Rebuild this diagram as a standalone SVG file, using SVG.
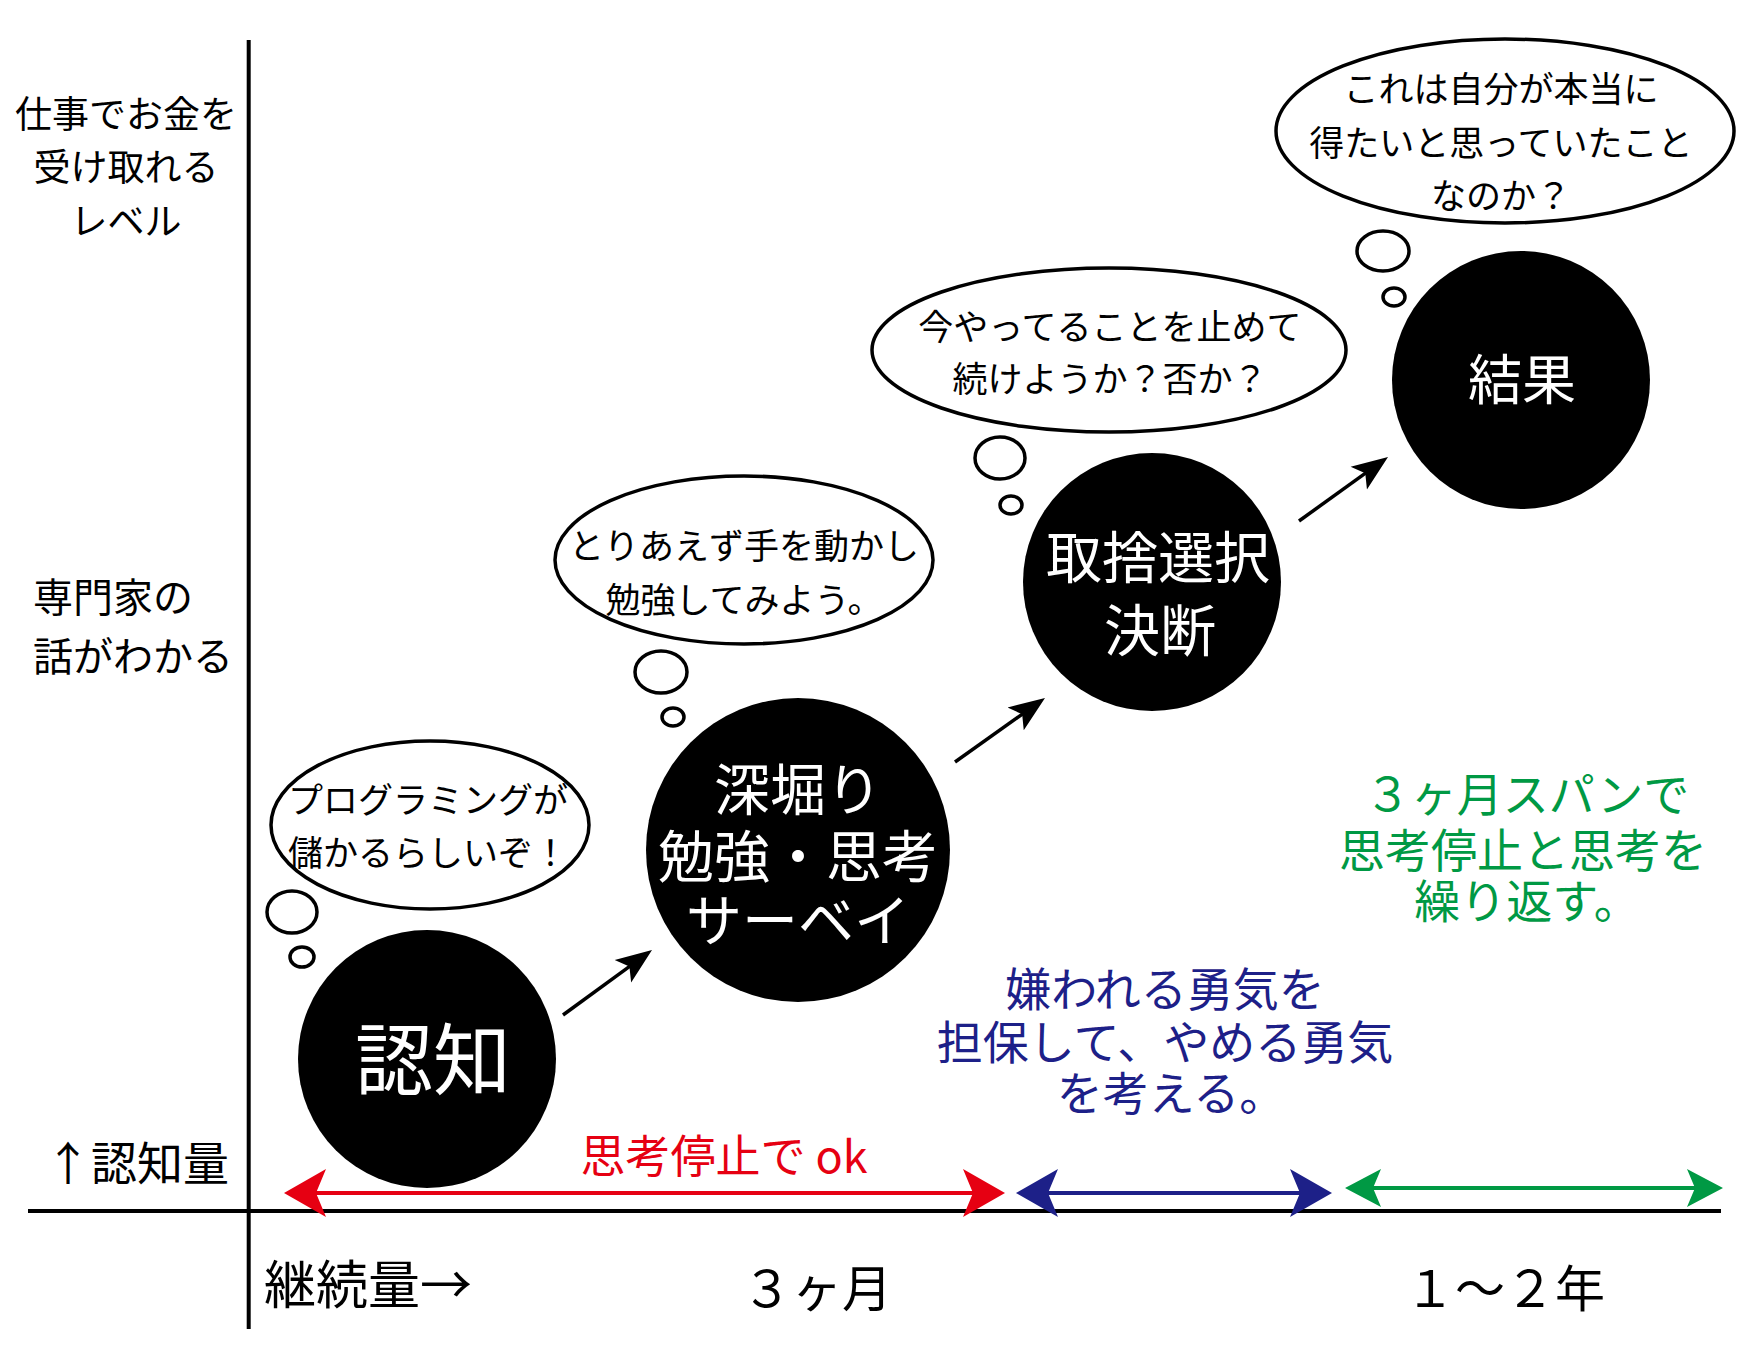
<svg xmlns="http://www.w3.org/2000/svg" width="1748" height="1359" viewBox="0 0 1748 1359">
<style>
text{font-family:"Noto Sans CJK JP","Noto Sans CJK SC",sans-serif;}
.lbl{fill:#000;}
.wt{fill:#fff;text-anchor:middle;}
.bt{fill:#000;text-anchor:middle;font-size:35px;}
.node{fill:#000;}
.bub{fill:#fff;stroke:#000;stroke-width:3.5;}
.axis{stroke:#000;stroke-width:4;fill:none;}
.conn{stroke:#000;stroke-width:3.5;fill:none;marker-end:url(#hk);}
</style>
<defs>
<marker id="hk" markerUnits="userSpaceOnUse" viewBox="0 -20 40 40" refX="10" refY="0" markerWidth="40" markerHeight="40" orient="auto"><path d="M36,0 L0,-14 L8,0 L0,14 Z" fill="#000"/></marker>
<marker id="hr" markerUnits="userSpaceOnUse" viewBox="0 -30 46 60" refX="12" refY="0" markerWidth="46" markerHeight="60" orient="auto-start-reverse"><path d="M42,0 L0,-24 L10,0 L0,24 Z" fill="#e60012"/></marker>
<marker id="hb" markerUnits="userSpaceOnUse" viewBox="0 -30 46 60" refX="12" refY="0" markerWidth="46" markerHeight="60" orient="auto-start-reverse"><path d="M42,0 L0,-24 L10,0 L0,24 Z" fill="#1d2088"/></marker>
<marker id="hg" markerUnits="userSpaceOnUse" viewBox="0 -25 40 50" refX="10" refY="0" markerWidth="40" markerHeight="50" orient="auto-start-reverse"><path d="M36,0 L0,-19 L8,0 L0,19 Z" fill="#009944"/></marker>
</defs>
<rect width="1748" height="1359" fill="#fff"/>

<g id="axes">
<line class="axis" x1="248.7" y1="40" x2="248.7" y2="1329"/>
<line class="axis" x1="28" y1="1211" x2="1721" y2="1211"/>
</g>

<g id="axis-labels" class="lbl">
<text x="126" y="128" font-size="37" text-anchor="middle">仕事でお金を</text>
<text x="126" y="181" font-size="37" text-anchor="middle">受け取れる</text>
<text x="126" y="235" font-size="37" text-anchor="middle">レベル</text>
<text x="33" y="612" font-size="40">専門家の</text>
<text x="33" y="671" font-size="40">話がわかる</text>
<text x="45" y="1180" font-size="46">↑認知量</text>
<text x="264" y="1304" font-size="52">継続量→</text>
<text x="817" y="1307" font-size="50" text-anchor="middle">３ヶ月</text>
<text x="1505" y="1307" font-size="50" text-anchor="middle">１～２年</text>
</g>

<g id="connectors">
<line class="conn" x1="563" y1="1015" x2="631" y2="965.4"/>
<line class="conn" x1="955" y1="762" x2="1023.8" y2="713.1"/>
<line class="conn" x1="1299" y1="521" x2="1366.9" y2="472.2"/>
<line x1="314" y1="1193" x2="975" y2="1193" stroke="#e60012" stroke-width="4" marker-start="url(#hr)" marker-end="url(#hr)"/>
<line x1="1046" y1="1193" x2="1302" y2="1193" stroke="#1d2088" stroke-width="4" marker-start="url(#hb)" marker-end="url(#hb)"/>
<line x1="1371" y1="1188" x2="1697" y2="1188" stroke="#009944" stroke-width="4" marker-start="url(#hg)" marker-end="url(#hg)"/>
</g>

<g id="phase-red">
<text x="724" y="1173" font-size="45" fill="#e60012" text-anchor="middle">思考停止で ok</text>
</g>
<g id="phase-blue" fill="#1d2088" font-size="46">
<text x="1165" y="1006" text-anchor="middle">嫌われる勇気を</text>
<text x="1165" y="1059" text-anchor="middle">担保して、やめる勇気</text>
<text x="1171" y="1110" text-anchor="middle">を考える。</text>
</g>
<g id="phase-green" fill="#009944" font-size="46">
<text x="1527" y="811" text-anchor="middle">３ヶ月スパンで</text>
<text x="1523" y="867" text-anchor="middle">思考停止と思考を</text>
<text x="1527" y="918" text-anchor="middle">繰り返す。</text>
</g>

<g id="bubble1">
<ellipse class="bub" cx="430" cy="825" rx="159" ry="84"/>
<ellipse class="bub" cx="292" cy="912" rx="25" ry="21"/>
<ellipse class="bub" cx="302" cy="957" rx="12" ry="10"/>
<text class="bt" x="428" y="813">プログラミングが</text>
<text class="bt" x="428" y="866">儲かるらしいぞ！</text>
</g>
<g id="bubble2">
<ellipse class="bub" cx="744" cy="560" rx="189" ry="84"/>
<ellipse class="bub" cx="661" cy="672" rx="26" ry="21"/>
<ellipse class="bub" cx="673" cy="717" rx="11" ry="9"/>
<text class="bt" x="744" y="559">とりあえず手を動かし</text>
<text class="bt" x="744" y="613">勉強してみよう。</text>
</g>
<g id="bubble3">
<ellipse class="bub" cx="1109" cy="350" rx="237" ry="82"/>
<ellipse class="bub" cx="1000" cy="458" rx="25" ry="21"/>
<ellipse class="bub" cx="1011" cy="505" rx="11" ry="9"/>
<text class="bt" x="1110" y="340">今やってることを止めて</text>
<text class="bt" x="1110" y="392">続けようか？否か？</text>
</g>
<g id="bubble4">
<ellipse class="bub" cx="1505" cy="131" rx="229" ry="92"/>
<ellipse class="bub" cx="1383" cy="251" rx="26" ry="20"/>
<ellipse class="bub" cx="1394" cy="297" rx="11" ry="9"/>
<text class="bt" x="1501" y="102">これは自分が本当に</text>
<text class="bt" x="1501" y="156">得たいと思っていたこと</text>
<text class="bt" x="1501" y="209">なのか？</text>
</g>

<g id="node-ninchi">
<circle class="node" cx="427" cy="1059" r="129"/>
<text class="wt" x="433" y="1089" font-size="78">認知</text>
</g>
<g id="node-fukabori">
<circle class="node" cx="798" cy="850" r="152"/>
<text class="wt" x="798" y="810" font-size="56">深堀り</text>
<text class="wt" x="798" y="877" font-size="56">勉強・思考</text>
<text class="wt" x="798" y="941" font-size="56">サーベイ</text>
</g>
<g id="node-shusha">
<circle class="node" cx="1152" cy="582" r="129"/>
<text class="wt" x="1158" y="578" font-size="56">取捨選択</text>
<text class="wt" x="1160" y="651" font-size="56">決断</text>
</g>
<g id="node-kekka">
<circle class="node" cx="1521" cy="380" r="129"/>
<text class="wt" x="1522" y="400" font-size="54">結果</text>
</g>
</svg>
